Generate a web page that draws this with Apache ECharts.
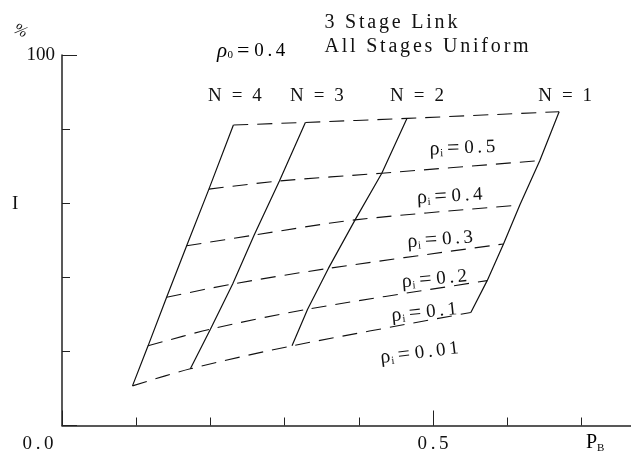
<!DOCTYPE html>
<html>
<head>
<meta charset="utf-8">
<script src="https://cdn.jsdelivr.net/npm/echarts@6/dist/echarts.min.js"></script>
<style>
  html, body { margin: 0; padding: 0; background: #fff; }
  #chart { width: 631px; height: 464px; }
</style>
</head>
<body>
<div id="chart"></div>
<script>
// Carpet of I (%) against blocking probability P_B for a 3-stage link,
// one solid curve per N and one dashed curve per inlet load rho_i.
const rhoLevels = [0.01, 0.1, 0.2, 0.3, 0.4, 0.5];
const nLevels = [4, 3, 2, 1];

// P_B and I for each N, ordered by rho_i (0.01 .. 0.5)
const pbN4 = [0.095, 0.116, 0.141, 0.168, 0.198, 0.231];
const iN4  = [10.7, 21.5, 34.6, 48.5, 63.8, 81.1];
const pbN3 = [0.173, 0.200, 0.230, 0.259, 0.293, 0.328];
const iN3  = [15.3, 26.0, 38.2, 51.4, 66.0, 81.8];
const pbN2 = [0.310, 0.331, 0.359, 0.395, 0.431, 0.465];
const iN2  = [21.5, 31.4, 42.4, 55.5, 68.1, 82.9];
const pbN1 = [0.551, 0.573, 0.595, 0.617, 0.644, 0.670];
const iN1  = [30.5, 39.1, 49.0, 59.5, 71.5, 84.7];

const rho0 = 0.4;
const xLabelTicks = [0, 0.5];
const yLabelTicks = [100];

const pbByN = [pbN4, pbN3, pbN2, pbN1];
const iByN = [iN4, iN3, iN2, iN1];

const INK = '#111';
const SERIF = '"Liberation Serif", "Times New Roman", serif';

// Split text into one rich token per glyph so the padding acts as tracking.
function track(text, style) {
  return Array.from(text).map(function (c) { return '{' + style + '|' + c + '}'; }).join('');
}

const richText = {
  h:   { fontFamily: SERIF, fontSize: 20, fontWeight: 'normal', lineHeight: 24, padding: [0, 1.4, 0, 1.4], color: INK },
  n:   { fontFamily: SERIF, fontSize: 19, padding: [0, 1.3, 0, 1.3], color: INK },
  d:   { fontFamily: SERIF, fontSize: 19, padding: [0, 1.8, 0, 1.8], color: INK },
  dz:  { fontFamily: SERIF, fontSize: 19, padding: [0, 49.8, 0, 1.8], color: INK },
  rho: { fontFamily: SERIF, fontSize: 20, color: INK },
  rhoI:{ fontFamily: SERIF, fontSize: 21, fontStyle: 'italic', color: INK },
  sub: { fontFamily: SERIF, fontSize: 11, padding: [9, 1, 0, 0.5], color: INK },
  eq:  { fontFamily: SERIF, fontSize: 22, padding: [0, 3, 0, 3], color: INK },
  p:   { fontFamily: SERIF, fontSize: 20, color: INK },
  b:   { fontFamily: SERIF, fontSize: 11, padding: [10, 0, 0, 0], color: INK }
};

function rhoLabel(v) {
  return '{rho|ρ}{sub|i}{eq|=}' + track(String(v), 'd');
}

// Label placement for the N curves (at their top end) and the rho_i curves (near N = 1)
const nLabelOffset = [[1.5, -29], [11.5, -26.3], [10, -22.3], [6, -15.7]];
const rhoLabelOffset = [[-55, 34], [-65, 25], [-71, 29], [-81, 29], [-91, 31], [-97, 33]];
const rhoLabelRotate = [7, 6, 5, 4, 3, 2];

const series = [];

nLevels.forEach(function (n, k) {
  series.push({
    type: 'line',
    name: 'N = ' + n,
    symbol: 'circle',
    symbolSize: 0,
    showSymbol: true,
    smooth: false,
    silent: true,
    lineStyle: { color: INK, width: 1.2, type: 'solid' },
    itemStyle: { color: INK },
    data: pbByN[k].map(function (x, j) {
      const item = { value: [x, iByN[k][j]] };
      if (j === rhoLevels.length - 1) {
        item.label = {
          show: true,
          position: 'inside',
          offset: nLabelOffset[k],
          formatter: function () { return track('N = ' + n, 'n'); },
          rich: richText
        };
      }
      return item;
    })
  });
});

rhoLevels.forEach(function (r, j) {
  series.push({
    type: 'line',
    name: 'rho_i = ' + r,
    symbol: 'circle',
    symbolSize: 0,
    showSymbol: true,
    smooth: 0.3,
    silent: true,
    lineStyle: { color: INK, width: 1.1, type: [15, 9] },
    itemStyle: { color: INK },
    data: nLevels.map(function (n, k) {
      const item = { value: [pbByN[k][j], iByN[k][j]] };
      if (k === nLevels.length - 1) {
        item.label = {
          show: true,
          position: 'inside',
          offset: rhoLabelOffset[j],
          rotate: rhoLabelRotate[j],
          formatter: function () { return rhoLabel(r); },
          rich: richText
        };
      }
      return item;
    })
  });
});

const axisInk = { color: '#222', width: 1.5 };

const option = {
  animation: false,
  backgroundColor: '#fff',
  textStyle: { fontFamily: SERIF, color: INK },
  title: {
    left: 318,
    top: 6,
    text: track('3 Stage Link', 'h') + '\n' + track('All Stages Uniform', 'h'),
    textStyle: { fontWeight: 'normal', rich: richText }
  },
  grid: {
    left: 62, top: 55, width: 593.6, height: 370.5,
    containLabel: false,
    outerBoundsMode: 'none'
  },
  xAxis: [
    {
      type: 'value', min: 0, max: 0.8, interval: 0.1,
      axisLine: { lineStyle: axisInk },
      axisTick: { inside: true, length: 8, lineStyle: { color: '#222', width: 1 } },
      axisLabel: { show: false },
      splitLine: { show: false }
    },
    {
      type: 'value', min: 0, max: 0.8, interval: 0.5, position: 'bottom',
      axisLine: { show: false },
      axisTick: { inside: true, length: 15, lineStyle: { color: '#222', width: 1 } },
      axisLabel: {
        margin: 9,
        rich: richText,
        formatter: function (v) {
          if (xLabelTicks.indexOf(v) < 0) return '';
          const s = v.toFixed(1);
          if (v === 0) return '{d|' + s[0] + '}{d|' + s[1] + '}{dz|' + s[2] + '}';
          return track(s, 'd');
        }
      },
      splitLine: { show: false }
    }
  ],
  yAxis: [
    {
      type: 'value', min: 0, max: 100, interval: 20,
      axisLine: { lineStyle: axisInk },
      axisTick: { inside: true, length: 8, lineStyle: { color: '#222', width: 1 } },
      axisLabel: { show: false },
      splitLine: { show: false }
    },
    {
      type: 'value', min: 0, max: 100, interval: 100, position: 'left',
      axisLine: { show: false },
      axisTick: { inside: true, length: 15, lineStyle: { color: '#222', width: 1 } },
      axisLabel: {
        margin: 7,
        fontFamily: SERIF, fontSize: 19, color: INK,
        padding: [10, 0, 0, 0],
        formatter: function (v) { return yLabelTicks.indexOf(v) >= 0 ? String(v) : ''; }
      },
      splitLine: { show: false }
    }
  ],
  graphic: [
    {
      type: 'text', left: 11, top: 21, rotation: -0.45,
      style: { text: '%', fontFamily: SERIF, fontSize: 16, fontStyle: 'italic', fill: INK }
    },
    {
      type: 'text', left: 12, top: 195,
      style: { text: 'I', fontFamily: SERIF, fontSize: 19, fill: INK }
    },
    {
      type: 'text', left: 586, top: 433,
      style: { text: '{p|P}{b|B}', rich: richText }
    },
    {
      type: 'text', left: 217, top: 40,
      style: { text: '{rhoI|ρ}{sub|0}{eq|=}' + track(rho0.toFixed(1), 'd'), rich: richText }
    }
  ],
  series: series
};

const chart = echarts.init(document.getElementById('chart'), null, { renderer: 'canvas' });
chart.setOption(option);
</script>
</body>
</html>
